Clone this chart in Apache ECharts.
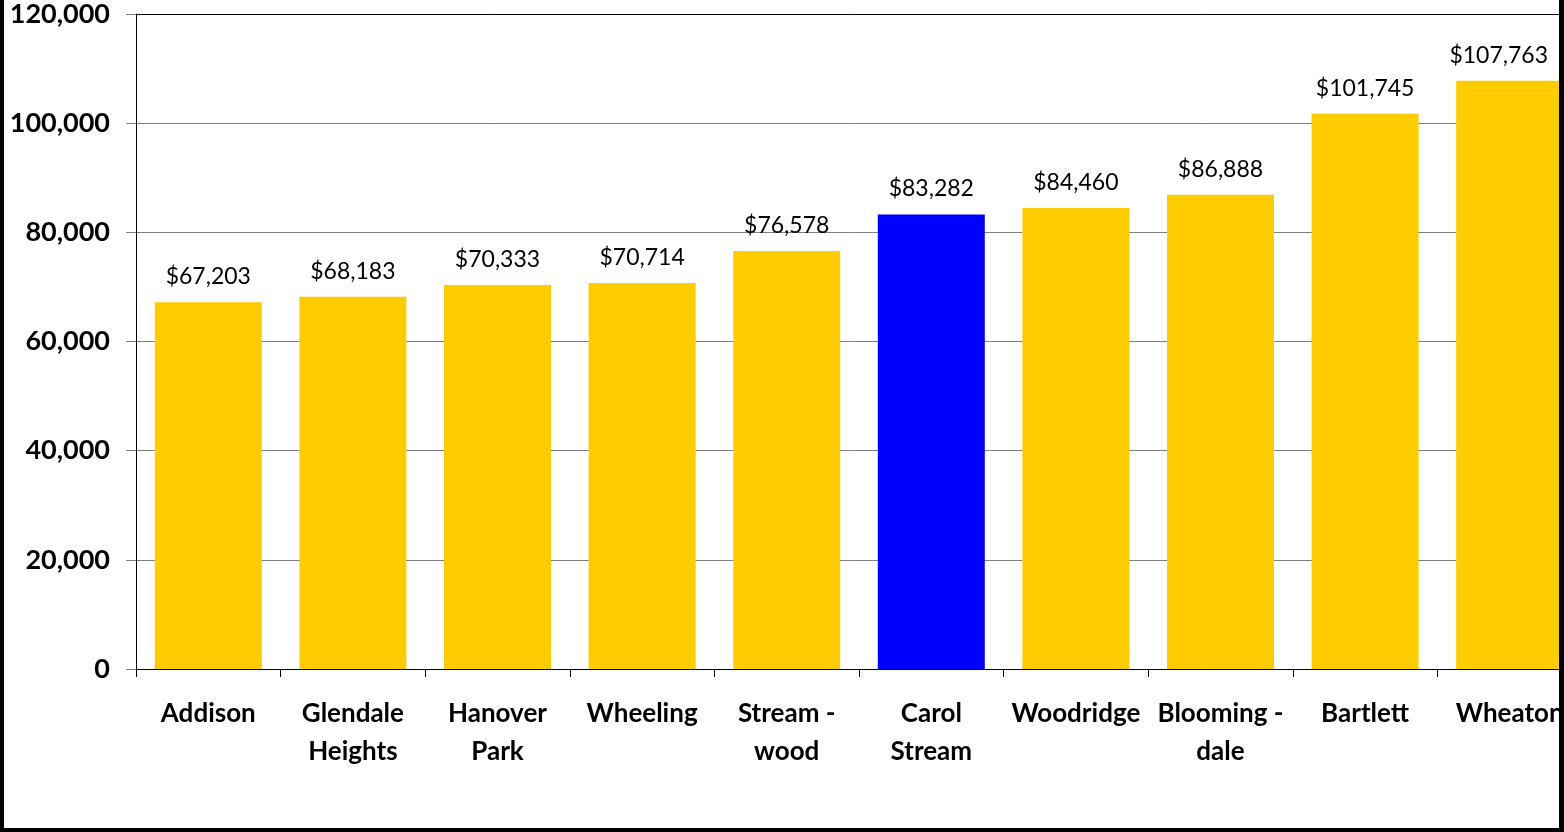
<!DOCTYPE html>
<html>
<head>
<meta charset="utf-8">
<script src="https://cdn.jsdelivr.net/npm/echarts@6/dist/echarts.min.js"></script>
<style>
  html, body { margin: 0; padding: 0; background: #fff; }
  #chart { width: 1564px; height: 832px; }
</style>
</head>
<body>
<div id="chart"></div>
<script>
// Median household income by community
const categories = ['Addison', 'Glendale\nHeights', 'Hanover\nPark', 'Wheeling', 'Stream -\nwood',
  'Carol\nStream', 'Woodridge', 'Blooming -\ndale', 'Bartlett', 'Wheaton'];
const incomes = [67203, 68183, 70333, 70714, 76578, 83282, 84460, 86888, 101745, 107763];
const highlighted = 'Carol\nStream';
const yTicks = [0, 20000, 40000, 60000, 80000, 100000, 120000];

const FONT = 'Lato, "Open Sans", sans-serif';

const chart = echarts.init(document.getElementById('chart'));
chart.setOption({
  animation: false,
  backgroundColor: '#ffffff',
  // plot area runs past the right edge of the canvas
  grid: { left: 136, top: 14, width: 1446, height: 655, containLabel: false, outerBoundsMode: 'none' },
  xAxis: {
    type: 'category',
    data: categories,
    axisLine: { lineStyle: { color: '#000', width: 1 } },
    axisTick: { show: true, length: 8, lineStyle: { color: '#000' } },
    axisLabel: {
      interval: 0,
      color: '#000',
      fontFamily: FONT,
      fontWeight: 'bold',
      fontSize: 26,
      lineHeight: 38,
      margin: 26
    }
  },
  yAxis: {
    type: 'value',
    min: yTicks[0],
    max: yTicks[yTicks.length - 1],
    interval: yTicks[1] - yTicks[0],
    axisLine: { show: true, lineStyle: { color: '#000', width: 1 } },
    axisTick: { show: true, length: 10, lineStyle: { color: '#808080' } },
    splitLine: {
      show: true,
      lineStyle: { color: ['#000', '#808080', '#808080', '#808080', '#808080', '#808080', '#000'], width: 1 }
    },
    axisLabel: {
      color: '#000',
      fontFamily: FONT,
      fontWeight: 'bold',
      fontSize: 27,
      margin: 26,
      formatter: v => v.toLocaleString('en-US')
    }
  },
  series: [{
    type: 'bar',
    barCategoryGap: '26%',
    data: incomes.map((v, i) => {
      const item = {
        value: v,
        itemStyle: { color: categories[i] === highlighted ? '#0000ff' : '#ffcc00' }
      };
      // keep the last label inside the frame
      if (i === incomes.length - 1) item.label = { offset: [-11, 0] };
      return item;
    }),
    label: {
      show: true,
      position: 'top',
      distance: 14,
      color: '#000',
      fontFamily: FONT,
      fontSize: 23,
      formatter: p => '$' + p.value.toLocaleString('en-US')
    }
  }],
  graphic: [
    // frame on the left, right and bottom edges
    { type: 'rect', z: 100, shape: { x: 0, y: 0, width: 4, height: 832 }, style: { fill: '#000' } },
    { type: 'rect', z: 100, shape: { x: 1559, y: 0, width: 5, height: 832 }, style: { fill: '#000' } },
    { type: 'rect', z: 100, shape: { x: 0, y: 828, width: 1564, height: 4 }, style: { fill: '#000' } }
  ]
});
</script>
</body>
</html>
